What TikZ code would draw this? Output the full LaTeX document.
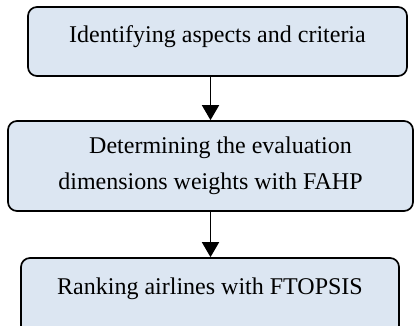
\documentclass[tikz,border=0pt]{standalone}
\usepackage{fontspec}
\setmainfont{Liberation Serif}
\usetikzlibrary{arrows.meta}

\begin{document}
\begin{tikzpicture}[
        stage/.style={draw=black, line width=1.7pt, rounded corners=9pt, fill=stagefill,
            inner sep=0pt, align=center, font=\fontsize{24}{36}\selectfont},
        flat/.style={stage, text height=17pt},
        arr/.style={line width=1.7pt, -{Triangle[length=15pt,width=17pt]}}
    ]
        \definecolor{stagefill}{HTML}{DCE6F2}
        \useasboundingbox (0,0) rectangle (414pt,-325pt);
        \node[flat, minimum width=379pt, minimum height=69pt, text depth=15pt] (ident) at (217.5pt,-41.5pt)
            {Identifying aspects and criteria};
        \node[stage, minimum width=405pt, minimum height=90pt] (weights) at (210.5pt,-166pt)
            {\hspace*{20pt}Determining the evaluation\\dimensions weights with FAHP};
        \node[flat, minimum width=378pt, minimum height=84pt, text depth=29pt] (rank) at (210pt,-300pt)
            {Ranking airlines with FTOPSIS};
        \draw[arr] (ident.south -| weights.north) -- (weights.north);
        \draw[arr] (weights.south) -- (rank.north -| weights.south);
    \end{tikzpicture}
\end{document}
